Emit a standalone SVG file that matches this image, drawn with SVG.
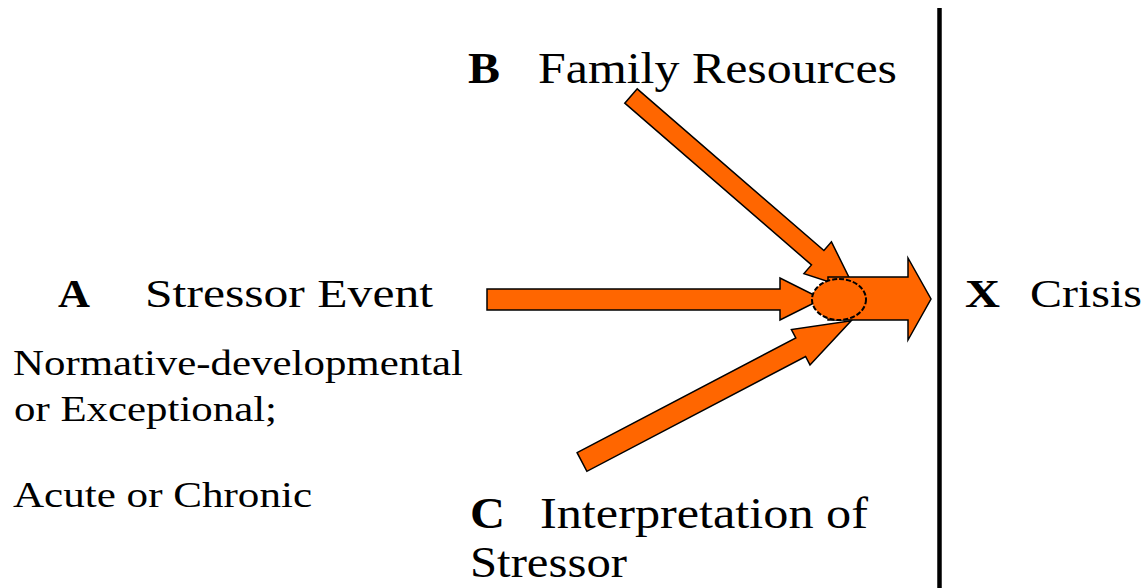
<svg xmlns="http://www.w3.org/2000/svg" width="1147" height="588" viewBox="0 0 1147 588">
<style>
.big{font-size:44px}
.mid{font-size:39px}
.sm{font-size:35px}
.b{font-weight:bold}
.arr{fill:#FF6600;stroke:#000;stroke-width:1.5;stroke-linejoin:miter}
</style>
<rect width="1147" height="588" fill="#fff"/>
<g id="connectors">
<polygon id="arrow-B" class="arr" transform="translate(631,96) rotate(40.9)" points="0,-9.5 247,-9.5 247,-21 297,0 247,21 247,9.5 0,9.5"/>
<polygon id="arrow-C" class="arr" transform="translate(582,462) rotate(-27.7)" points="0,-10.5 247,-10.5 247,-20 304,0 247,20 247,10.5 0,10.5"/>
<polygon id="arrow-A" class="arr" points="487,289 780,289 780,278 822,299 780,320 780,310 487,310"/>
<polygon id="arrow-X" class="arr" points="828,277 908,277 908,258 931,299 908,340 908,320 828,320"/>
<ellipse id="junction" cx="839" cy="299.5" rx="27" ry="20.5" fill="#FF6600" stroke="#000" stroke-width="2" stroke-dasharray="5,2"/>
<line id="crisis-line" x1="939.5" y1="8" x2="939.5" y2="588" stroke="#000" stroke-width="4.5"/>
</g>
<g font-family="Liberation Serif, Times New Roman, serif" fill="#000">
<g id="node-B">
<text class="big b" x="468" y="83" textLength="32" lengthAdjust="spacingAndGlyphs">B</text>
<text class="big" x="538" y="83" textLength="359" lengthAdjust="spacingAndGlyphs">Family Resources</text>
</g>
<g id="node-A">
<text class="mid b" x="58" y="307" textLength="32" lengthAdjust="spacingAndGlyphs">A</text>
<text class="mid" x="145" y="307" textLength="288" lengthAdjust="spacingAndGlyphs">Stressor Event</text>
<text class="sm" x="13" y="375" textLength="450" lengthAdjust="spacingAndGlyphs">Normative-developmental</text>
<text class="sm" x="14" y="421" textLength="263" lengthAdjust="spacingAndGlyphs">or Exceptional;</text>
<text class="sm" x="13" y="507" textLength="299" lengthAdjust="spacingAndGlyphs">Acute or Chronic</text>
</g>
<g id="node-C">
<text class="big b" x="470" y="528" textLength="35" lengthAdjust="spacingAndGlyphs">C</text>
<text class="big" x="540" y="528" textLength="328" lengthAdjust="spacingAndGlyphs">Interpretation of</text>
<text class="big" x="470" y="577" textLength="157" lengthAdjust="spacingAndGlyphs">Stressor</text>
</g>
<g id="node-X">
<text class="mid b" x="965" y="307" textLength="35" lengthAdjust="spacingAndGlyphs">X</text>
<text class="mid" x="1030" y="307" textLength="112" lengthAdjust="spacingAndGlyphs">Crisis</text>
</g>
</g>
</svg>
